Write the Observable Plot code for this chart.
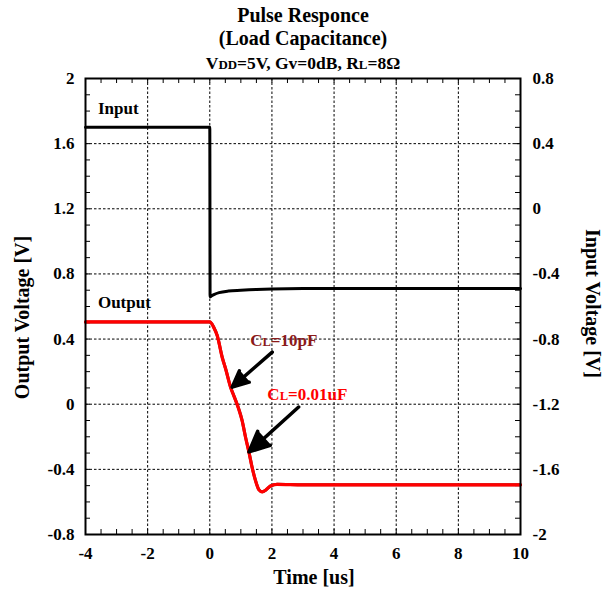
<!DOCTYPE html>
<html><head><meta charset="utf-8">
<script src="https://cdn.jsdelivr.net/npm/d3@7"></script>
<script src="https://cdn.jsdelivr.net/npm/@observablehq/plot@0.6"></script>
<style>body{margin:0;background:#fff}</style>
</head><body><div id="chart"></div>
<script>
// ---- data ----
const titleLines = ["Pulse Responce", "(Load Capacitance)", "VDD=5V, Gv=0dB, RL=8Ω"];
const xTicks = [-4, -2, 0, 2, 4, 6, 8, 10];
const yTicks = [-0.8, -0.4, 0, 0.4, 0.8, 1.2, 1.6, 2];
const inputTickLabels = ["-2", "-1.6", "-1.2", "-0.8", "-0.4", "0", "0.4", "0.8"];
const inputOffset = 1.2; // right axis value = left axis value - 1.2

const inputT = [-4, 0, 0.01, 0.05, 0.15, 0.3, 0.6, 1.0, 1.5, 2.0, 3.0, 10];
const inputV = [0.5, 0.5, -0.54, -0.535, -0.525, -0.515, -0.505, -0.5, -0.495, -0.492, -0.49, -0.49];

const outT = [-4, 0, 0.13, 0.24, 0.40, 0.51, 0.67, 0.77, 0.93, 1.04, 1.15, 1.26, 1.36, 1.47, 1.58, 1.69, 1.80, 1.95, 2.17, 3, 10];
const out10pF = [0.505, 0.505, 0.473, 0.422, 0.289, 0.218, 0.105, 0.055, -0.027, -0.099, -0.201, -0.293, -0.385, -0.467, -0.524, -0.538, -0.528, -0.503, -0.492, -0.495, -0.495];
const out001uF = [0.505, 0.505, 0.47, 0.42, 0.287, 0.216, 0.103, 0.053, -0.029, -0.101, -0.203, -0.295, -0.387, -0.469, -0.525, -0.538, -0.527, -0.502, -0.492, -0.495, -0.495];

const seriesLabels = ["Input", "Output"];
const seriesLabelT = [-3.6, -3.6];
const seriesLabelV = [1.817, 0.625];

const annLabels = ["CL=10pF", "CL=0.01uF"];
const annColors = ["#8b1a1a", "#ff0000"];
const annT = [2.38, 3.14];
const annV = [0.389, 0.062];

const arrowFromT = [2.01, 2.86];
const arrowFromV = [0.32, -0.017];
const arrowToT = [0.72, 1.26];
const arrowToV = [0.105, -0.293];

const richParts = {
  "VDD=5V, Gv=0dB, RL=8Ω": [["V", 0], ["DD", 1], ["=5V, Gv=0dB, R", 0], ["L", 1], ["=8Ω", 0]],
  "CL=10pF": [["C", 0], ["L", 1], ["=10pF", 0]],
  "CL=0.01uF": [["C", 0], ["L", 1], ["=0.01uF", 0]]
};

// ---- tables ----
const inputData = inputT.map((t, i) => ({t, v: inputV[i]}));
const outData = outT.map((t, i) => ({t, v: out10pF[i]}));
const outData2 = outT.map((t, i) => ({t, v: out001uF[i]}));
const labelData = seriesLabels.map((l, i) => ({l, t: seriesLabelT[i], v: seriesLabelV[i]}));
const annData = annLabels.map((l, i) => ({l, c: annColors[i], t: annT[i], v: annV[i]}));
const arrowData = arrowFromT.map((t, i) => ({x1: t, y1: arrowFromV[i], x2: arrowToT[i], y2: arrowToV[i]}));

const W = 612, H = 593, mL = 85, mR = 92, mT = 78, mB = 59;
const fw = W - mL - mR, fh = H - mT - mB;
const xMinor = d3.range(-4, 10.001, 0.5);
const yMinor = d3.range(-0.8, 2.0001, 0.1);

const plot = Plot.plot({
  width: W, height: H,
  marginLeft: mL, marginRight: mR, marginTop: mT, marginBottom: mB,
  x: {domain: [-4, 10], axis: null},
  y: {domain: [-0.8, 2], axis: null},
  style: {fontFamily: "'Liberation Serif', 'Times New Roman', serif", fontWeight: "bold", fontSize: "17px", background: "white", color: "black"},
  marks: [
    Plot.gridX(xTicks.slice(1, -1), {stroke: "black", strokeOpacity: 1, strokeWidth: 1, strokeDasharray: "2.5,2"}),
    Plot.gridY(yTicks.slice(1, -1), {stroke: "black", strokeOpacity: 1, strokeWidth: 1, strokeDasharray: "2.5,2"}),
    // minor ticks, inward
    Plot.tickY(yMinor, {y: d => d, insetRight: fw - 5, stroke: "black", strokeWidth: 1}),
    Plot.tickY(yMinor, {y: d => d, insetLeft: fw - 5, stroke: "black", strokeWidth: 1}),
    Plot.tickX(xMinor, {x: d => d, insetTop: fh - 5, stroke: "black", strokeWidth: 1}),
    Plot.tickX(xMinor, {x: d => d, insetBottom: fh - 5, stroke: "black", strokeWidth: 1}),
    // tick labels
    Plot.text(xTicks, {x: d => d, frameAnchor: "bottom", dy: 19, textAnchor: "middle", lineAnchor: "middle", text: d => String(d), fontSize: 17, fontWeight: "bold"}),
    Plot.text(yTicks, {y: d => d, frameAnchor: "left", dx: -11, textAnchor: "end", lineAnchor: "middle", text: d => String(d), fontSize: 17, fontWeight: "bold"}),
    Plot.text(yTicks, {y: d => d, frameAnchor: "right", dx: 12, textAnchor: "start", lineAnchor: "middle", text: (d, i) => inputTickLabels[i], fontSize: 17, fontWeight: "bold"}),
    // data
    Plot.line(inputData, {x: "t", y: d => d.v + inputOffset, stroke: "black", strokeWidth: 3, curve: "monotone-x"}),
    Plot.line(outData, {x: "t", y: "v", stroke: "#8b1a1a", strokeWidth: 3, curve: "monotone-x"}),
    Plot.line(outData2, {x: "t", y: "v", stroke: "#ff0000", strokeWidth: 3.2, curve: "monotone-x"}),
    Plot.frame({stroke: "black", strokeWidth: 2}),
    // annotations
    Plot.arrow(arrowData, {x1: "x1", y1: "y1", x2: "x2", y2: "y2", stroke: "black", strokeWidth: 3.5, headLength: 14, headAngle: 50}),
    Plot.text(labelData, {x: "t", y: "v", text: "l", textAnchor: "start", lineAnchor: "middle", fontSize: 17, fill: "black"}),
    Plot.text(annData, {x: "t", y: "v", text: "l", fill: "c", textAnchor: "middle", lineAnchor: "middle", fontSize: 17}),
    // titles
    Plot.text([titleLines[0]], {frameAnchor: "top", dy: -62.5, textAnchor: "middle", lineAnchor: "middle", fontSize: 20, text: d => d}),
    Plot.text([titleLines[1]], {frameAnchor: "top", dy: -39.5, textAnchor: "middle", lineAnchor: "middle", fontSize: 20, text: d => d}),
    Plot.text([titleLines[2]], {frameAnchor: "top", dy: -15.5, textAnchor: "middle", lineAnchor: "middle", fontSize: 17.5, text: d => d}),
    Plot.text(["Output Voltage [V]"], {frameAnchor: "left", dx: -62.5, dy: 11, rotate: -90, textAnchor: "middle", lineAnchor: "middle", fontSize: 20, text: d => d}),
    Plot.text(["Input Voltage [V]"], {frameAnchor: "right", dx: 72, dy: -3, rotate: 90, textAnchor: "middle", lineAnchor: "middle", fontSize: 20, text: d => d}),
    Plot.text(["Time [us]"], {frameAnchor: "bottom", dx: 11, dy: 43, textAnchor: "middle", lineAnchor: "middle", fontSize: 20, text: d => d})
  ]
});

// small-caps style segments
d3.select(plot).selectAll("text").each(function() {
  const parts = richParts[this.textContent];
  if (!parts || this.querySelector("tspan")) return;
  const fs = parseFloat(this.getAttribute("font-size")) || parseFloat(this.parentNode.getAttribute("font-size")) || 17;
  this.textContent = "";
  for (const [s, small] of parts) {
    const ts = document.createElementNS("http://www.w3.org/2000/svg", "tspan");
    ts.textContent = s;
    if (small) ts.setAttribute("font-size", (fs * 0.74).toFixed(1));
    this.appendChild(ts);
  }
});

// filled arrowheads
d3.select(plot).selectAll('g[aria-label="arrow"] path').each(function() {
  const n = (this.getAttribute("d").match(/-?\d*\.?\d+(?:e-?\d+)?/g) || []).map(Number);
  if (n.length < 10) return;
  const head = document.createElementNS("http://www.w3.org/2000/svg", "path");
  head.setAttribute("d", `M${n[4]},${n[5]}L${n[6]},${n[7]}L${n[8]},${n[9]}Z`);
  head.setAttribute("fill", "black");
  head.setAttribute("stroke", "black");
  head.setAttribute("stroke-width", "1.5");
  head.setAttribute("stroke-linejoin", "miter");
  this.parentNode.appendChild(head);
});

document.getElementById("chart").appendChild(plot);
</script>
</body></html>
